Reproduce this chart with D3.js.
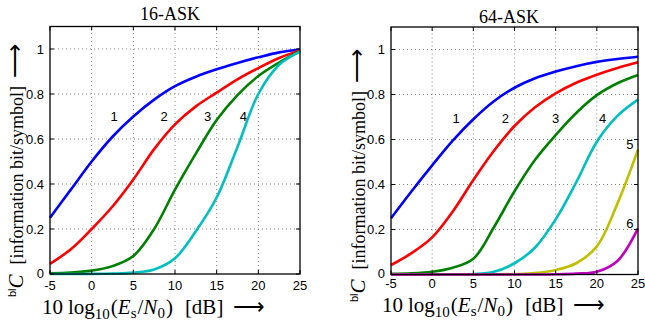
<!DOCTYPE html>
<html><head><meta charset="utf-8">
<script src="https://cdn.jsdelivr.net/npm/d3@7/dist/d3.min.js"></script>
<style>body{margin:0;background:#fff}</style>
</head><body>
<svg id="c" width="645" height="322"></svg>
<script>
// ---- data ----
const snr = [-5, -2.5, 0, 2.5, 5, 7.5, 10, 12.5, 15, 17.5, 20, 22.5, 25];
const xTicks = [-5, 0, 5, 10, 15, 20, 25];
const yTicks = [0, 0.2, 0.4, 0.6, 0.8, 1];

const ask16_bit1 = [0.25, 0.375, 0.50, 0.61, 0.70, 0.775, 0.835, 0.877, 0.91, 0.938, 0.963, 0.985, 0.998];
const ask16_bit2 = [0.045, 0.11, 0.20, 0.30, 0.42, 0.555, 0.665, 0.745, 0.806, 0.865, 0.915, 0.96, 0.993];
const ask16_bit3 = [0.003, 0.006, 0.015, 0.035, 0.08, 0.20, 0.375, 0.535, 0.684, 0.795, 0.88, 0.94, 0.99];
const ask16_bit4 = [0, 0, 0.0005, 0.002, 0.006, 0.02, 0.07, 0.19, 0.34, 0.565, 0.80, 0.93, 0.988];

const ask64_bit1 = [0.25, 0.37, 0.485, 0.595, 0.69, 0.77, 0.83, 0.872, 0.902, 0.926, 0.945, 0.958, 0.968];
const ask64_bit2 = [0.042, 0.095, 0.165, 0.28, 0.42, 0.55, 0.66, 0.743, 0.805, 0.852, 0.888, 0.918, 0.943];
const ask64_bit3 = [0.003, 0.005, 0.012, 0.03, 0.07, 0.21, 0.37, 0.51, 0.62, 0.718, 0.797, 0.85, 0.887];
const ask64_bit4 = [0, 0, 0, 0.0005, 0.002, 0.012, 0.05, 0.12, 0.245, 0.41, 0.59, 0.705, 0.777];
const ask64_bit5 = [0, 0, 0, 0, 0, 0.0005, 0.002, 0.006, 0.02, 0.05, 0.125, 0.315, 0.555];
const ask64_bit6 = [0, 0, 0, 0, 0, 0, 0, 0, 0.001, 0.004, 0.012, 0.06, 0.205];

const ask16Names = ["1", "2", "3", "4"];
const ask16LabelX = [2.7, 8.7, 13.9, 18.2];
const ask16LabelY = [0.70, 0.70, 0.70, 0.70];
const ask64Names = ["1", "2", "3", "4", "5", "6"];
const ask64LabelX = [2.9, 8.9, 15.0, 20.7, 24.0, 24.0];
const ask64LabelY = [0.694, 0.694, 0.694, 0.694, 0.579, 0.228];

const colors = ["#0000ff", "#ff0000", "#008000", "#00bfbf", "#bfbf00", "#bf00bf"];

// ---- drawing ----
const svg = d3.select("#c");
const SANS = "'Liberation Sans', Arial, Helvetica, sans-serif";
const SERIF = "'Liberation Serif', 'Times New Roman', serif";
const ARROW = "'DejaVu Sans', sans-serif";

function panel(cfg) {
  const x = d3.scaleLinear().domain([-5, 25]).range([cfg.x0, cfg.x1]);
  const y = d3.scaleLinear().domain([0, 1.1]).range([cfg.yb, cfg.yt]);
  const g = svg.append("g");

  // grid
  g.selectAll(".gx").data(xTicks.slice(1, -1)).enter().append("line")
    .attr("x1", d => x(d)).attr("x2", d => x(d)).attr("y1", cfg.yb).attr("y2", cfg.yt)
    .attr("stroke", "#777").attr("stroke-width", 0.9).attr("stroke-dasharray", "1,3");
  g.selectAll(".gy").data(yTicks.slice(1)).enter().append("line")
    .attr("x1", cfg.x0).attr("x2", cfg.x1).attr("y1", d => y(d)).attr("y2", d => y(d))
    .attr("stroke", "#777").attr("stroke-width", 0.9).attr("stroke-dasharray", "1,3");

  // curves
  const line = d3.line().x((d, i) => x(snr[i])).y(d => y(d)).curve(d3.curveCatmullRom.alpha(0.5));
  cfg.series.forEach((s, i) => {
    g.append("path").attr("d", line(s)).attr("fill", "none")
      .attr("stroke", colors[i]).attr("stroke-width", 2.6).attr("stroke-linejoin", "round");
  });

  // frame
  g.append("rect").attr("x", cfg.x0).attr("y", cfg.yt).attr("width", cfg.x1 - cfg.x0)
    .attr("height", cfg.yb - cfg.yt).attr("fill", "none").attr("stroke", "#000").attr("stroke-width", 1.3);

  // inward ticks
  const tl = 4;
  xTicks.forEach(t => {
    g.append("line").attr("x1", x(t)).attr("x2", x(t)).attr("y1", cfg.yb).attr("y2", cfg.yb - tl).attr("stroke", "#000");
    g.append("line").attr("x1", x(t)).attr("x2", x(t)).attr("y1", cfg.yt).attr("y2", cfg.yt + tl).attr("stroke", "#000");
  });
  yTicks.forEach(t => {
    g.append("line").attr("x1", cfg.x0).attr("x2", cfg.x0 + tl).attr("y1", y(t)).attr("y2", y(t)).attr("stroke", "#000");
    g.append("line").attr("x1", cfg.x1).attr("x2", cfg.x1 - tl).attr("y1", y(t)).attr("y2", y(t)).attr("stroke", "#000");
  });

  // tick labels
  g.selectAll(".xl").data(xTicks).enter().append("text")
    .attr("x", d => x(d)).attr("y", cfg.xTickBase).attr("text-anchor", "middle")
    .attr("font-family", SANS).attr("font-size", 13)
    .text(d => String(d));
  g.selectAll(".yl").data(yTicks).enter().append("text")
    .attr("x", cfg.x0 - 6).attr("y", d => y(d)).attr("dy", d => d === 0 ? "0.3em" : "0.36em").attr("text-anchor", "end")
    .attr("font-family", SANS).attr("font-size", 13)
    .text(d => (d === 0 || d === 1) ? String(d) : d3.format(".1f")(d));

  // curve labels
  cfg.names.forEach((n, i) => {
    g.append("text").attr("x", x(cfg.lx[i])).attr("y", y(cfg.ly[i])).attr("dy", "0.36em")
      .attr("text-anchor", "middle").attr("font-family", SANS).attr("font-size", 13).text(n);
  });

  // title
  g.append("text").attr("x", cfg.titleX).attr("y", cfg.titleY).attr("text-anchor", "middle")
    .attr("font-family", SERIF).attr("font-size", 18).text(cfg.title);

  // x label
  const xl = g.append("text").attr("x", cfg.xLabX).attr("y", cfg.xLabY)
    .attr("font-family", SERIF).attr("font-size", 21);
  xl.append("tspan").text("10");
  xl.append("tspan").attr("dx", 5).text("log");
  xl.append("tspan").attr("font-size", 15).attr("dy", 5).text("10");
  xl.append("tspan").attr("dy", -5).attr("dx", 1).text("(");
  xl.append("tspan").attr("font-style", "italic").text("E");
  xl.append("tspan").attr("font-size", 15).attr("dy", 4).text("s");
  xl.append("tspan").attr("dy", -4).attr("dx", 1).text("/");
  xl.append("tspan").attr("font-style", "italic").text("N");
  xl.append("tspan").attr("font-size", 15).attr("dy", 4).text("0");
  xl.append("tspan").attr("dy", -4).attr("dx", 1).text(")");
  xl.append("tspan").attr("dx", 12).text("[dB]");
  xl.append("tspan").attr("dx", 10).attr("font-family", ARROW).attr("font-weight", 200).attr("font-size", 22).text("\u27F6");

  // y label
  const yl = g.append("text").attr("transform", `translate(${cfg.yLabX},${cfg.yLabY}) rotate(-90)`)
    .attr("font-family", SERIF).attr("font-size", 18);
  yl.append("tspan").attr("font-family", SANS).attr("font-size", 11).attr("dy", -7).text("bl");
  yl.append("tspan").attr("font-style", "italic").attr("font-size", 21).attr("dy", 7).text("C");
  yl.append("tspan").attr("dx", 10).text("[information bit/symbol]");
  yl.append("tspan").attr("dx", 8).attr("font-family", ARROW).attr("font-weight", 200).attr("font-size", 24).text("\u27F6");
}

panel({
  x0: 50, x1: 300, yt: 26.5, yb: 274,
  series: [ask16_bit1, ask16_bit2, ask16_bit3, ask16_bit4],
  names: ask16Names, lx: ask16LabelX, ly: ask16LabelY,
  title: "16-ASK", titleX: 170, titleY: 20,
  xTickBase: 290, xLabX: 42, xLabY: 314, yLabX: 23, yLabY: 297
});
panel({
  x0: 391, x1: 638, yt: 27, yb: 274.5,
  series: [ask64_bit1, ask64_bit2, ask64_bit3, ask64_bit4, ask64_bit5, ask64_bit6],
  names: ask64Names, lx: ask64LabelX, ly: ask64LabelY,
  title: "64-ASK", titleX: 509, titleY: 23,
  xTickBase: 288, xLabX: 382, xLabY: 312, yLabX: 365, yLabY: 302
});
</script>
</body></html>
